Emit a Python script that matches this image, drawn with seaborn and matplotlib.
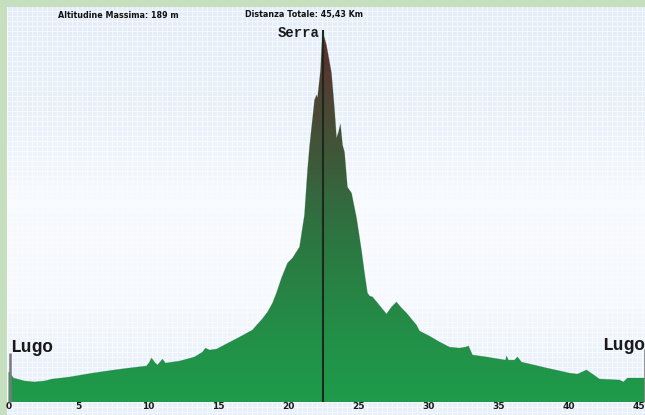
import numpy as np
import pandas as pd
import matplotlib
matplotlib.use("Agg")
import matplotlib.pyplot as plt
import seaborn as sns
from matplotlib.colors import LinearSegmentedColormap

# ---------------- data ----------------
km = [0.00, 0.07, 0.36, 1.14, 1.86, 2.57, 3.14, 4.36, 6.00, 6.50, 7.57, 8.64, 9.86,
      10.07, 10.21, 10.43, 10.64, 11.00, 11.21, 12.21, 13.29, 13.86, 14.07, 14.36,
      14.86, 15.29, 16.50, 17.43, 17.79, 18.07, 18.50, 18.86, 19.14, 19.50, 19.93,
      20.29, 20.79, 21.14, 21.36, 21.50, 21.86, 22.00, 22.07, 22.29, 22.43, 22.57,
      22.71, 23.07, 23.29, 23.43, 23.57, 23.71, 23.86, 24.00, 24.21, 24.50, 24.86,
      25.21, 25.43, 25.64, 25.79, 26.00, 26.36, 27.00, 27.36, 27.71, 28.07, 28.43,
      29.14, 29.36, 30.07, 30.79, 31.50, 32.21, 32.64, 32.86, 33.14, 34.14, 35.07,
      35.50, 35.57, 35.71, 36.14, 36.36, 36.64, 38.43, 40.07, 40.64, 41.29, 41.71,
      42.21, 43.64, 43.93, 44.21, 45.29, 45.43]
alt = [15.2, 15.0, 12.2, 10.7, 10.2, 10.7, 11.7, 12.7, 14.7, 15.2, 16.3, 17.3, 18.3,
       20.3, 22.4, 20.3, 18.8, 21.8, 19.8, 20.8, 22.9, 25.4, 27.4, 26.4,
       26.9, 28.5, 33.0, 36.6, 39.6, 41.7, 45.7, 50.3, 55.4, 63.0, 70.6,
       73.2, 78.8, 95.0, 117.9, 129.6, 153.5, 156.0, 154.5, 168.7, 189.0, 185.0,
       181.4, 167.2, 148.4, 134.1, 137.2, 141.3, 130.6, 127.0, 109.2, 106.2, 93.5,
       77.2, 65.5, 55.4, 53.9, 53.4, 50.3, 44.7, 48.3, 50.8, 47.8, 45.2,
       39.1, 36.1, 33.5, 30.5, 27.9, 27.4, 27.9, 28.5, 23.9, 22.9, 21.8,
       21.3, 23.4, 21.3, 21.3, 22.9, 20.3, 17.3, 14.7, 14.2, 16.3, 14.2,
       11.7, 11.2, 10.2, 12.2, 12.2, 12.2]

wp_names = ["Lugo", "Serra", "Lugo"]
wp_km = [0.08, 22.43, 45.43]
wp_top = [25.0, 189.0, 27.0]
xticks = [0, 5, 10, 15, 20, 25, 30, 35, 40, 45]
total_km = 45.43
max_alt = int(max(alt))

df = pd.DataFrame({"km": km, "alt": alt})

# ---------------- style ----------------
sns.set_theme(style="white")
plt.rcParams["font.family"] = ["DejaVu Sans"]

W_PX, H_PX = 645, 415
fig = plt.figure(figsize=(W_PX / 100, H_PX / 100), dpi=100, facecolor="#c5dfbf")
ax = fig.add_axes([7 / W_PX, 0, 638 / W_PX, 408 / H_PX])

SX = 14.0      # px per km
SY = 1.968     # px per m
x0, x1 = -1.5 / SX, 636.5 / SX
y0, y1 = -13 / SY, 395 / SY

# background texture (bluish gradient with fine grid)
H, W = 408, 638
rows = np.arange(H) + 7
b = np.interp(rows, [7, 120, 200, 300, 360, 415], [1.0, 0.8, 0.15, 0.2, 0.7, 0.85])
white = np.array([0.985, 0.99, 1.0])
cell = np.array([0.895, 0.93, 0.975])
line = np.array([0.96, 0.975, 0.995])
rr, cc = np.meshgrid(np.arange(H), np.arange(W), indexing="ij")
is_line = (rr % 5 == 0) | (cc % 5 == 0)
bb = b[:, None, None]
base = white * (1 - bb) + cell * bb
ln = white * (1 - bb) + line * bb
bg = np.where(is_line[..., None], ln, base)
ax.imshow(bg, extent=[x0, x1, y0, y1], aspect="auto", interpolation="nearest", zorder=0)

# gradient fill under the profile
stops_m = [0, 30, 77, 103, 123, 153, 174, 189]
stops_c = ["#1e9b4a", "#229148", "#2b7942", "#34693e", "#3e5939", "#4d4435", "#5c3430", "#6b2828"]
cmap = LinearSegmentedColormap.from_list(
    "elev", [(m / max(stops_m), c) for m, c in zip(stops_m, stops_c)])
poly = ax.fill_between(df["km"], 0, df["alt"], facecolor="none", edgecolor="none", zorder=1)
grad = np.linspace(0, 1, 512).reshape(-1, 1)
im = ax.imshow(grad, cmap=cmap, extent=[x0, x1, 0, max(stops_m)], origin="lower",
               aspect="auto", interpolation="bilinear", zorder=2)
im.set_clip_path(poly.get_paths()[0], transform=ax.transData)

sns.lineplot(data=df, x="km", y="alt", ax=ax, color="#2b6a3b", lw=0.5, alpha=0.3,
             zorder=3, legend=False)

# waypoint markers
mono = ["Liberation Mono", "DejaVu Sans Mono"]
for name, k, t in zip(wp_names, wp_km, wp_top):
    if name == "Serra":
        ax.vlines(k, 0, t, color="#1c2a1e", lw=1.5, zorder=4)
        ax.text(k - 0.22, t - 3.5, name, ha="right", va="baseline",
                family=mono, fontsize=10, weight="bold", color="#1a1a1a", zorder=5)
    else:
        ax.vlines(k, 0, t, color="#7a7a7a", lw=1.8, zorder=4)
        if k < total_km / 2:
            ax.text(k + 0.05, t + 0.5, name, ha="left", va="baseline",
                    family=mono, fontsize=13, weight="bold", color="#1a1a1a", zorder=5)
        else:
            ax.text(k + 0.05, t - 0.5, name, ha="right", va="baseline",
                    family=mono, fontsize=13, weight="bold", color="#1a1a1a", zorder=5)

ax.set_xlim(x0, x1)
ax.set_ylim(y0, y1)
ax.set_xticks(xticks)
ax.set_xticklabels([str(t) for t in xticks], fontsize=6.5, fontweight="bold", color="#1a1a1a")
ax.set_yticks([])
ax.tick_params(axis="x", direction="in", length=0, pad=-9.5)
ax.set_xlabel("")
ax.set_ylabel("")
for s in ax.spines.values():
    s.set_visible(False)

fig.text(58 / W_PX, 1 - 15 / H_PX, f"Altitudine Massima: {max_alt} m", ha="left", va="center",
         fontsize=5.8, weight="bold", color="#111111")
fig.text(245 / W_PX, 1 - 15 / H_PX, "Distanza Totale: " + f"{total_km:.2f}".replace(".", ",") + " Km",
         ha="left", va="center", fontsize=5.8, weight="bold", color="#111111")

fig.savefig("out.png", dpi=100, facecolor=fig.get_facecolor())
